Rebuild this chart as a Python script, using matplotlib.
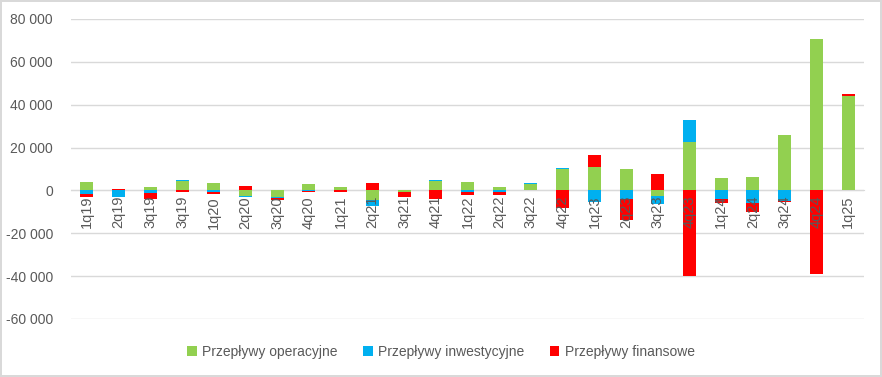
import numpy as np
import matplotlib
matplotlib.use("Agg")
import matplotlib.pyplot as plt
from matplotlib.ticker import FuncFormatter, MultipleLocator
from matplotlib.patches import Patch

labels = ['1q19', '2q19', '3q19', '3q19', '1q20', '2q20', '3q20', '4q20', '1q21',
          '2q21', '3q21', '4q21', '1q22', '2q22', '3q22', '4q22', '1q23', '2q23',
          '3q23', '4q23', '1q24', '2q24', '3q24', '4q24', '1q25']

operacyjne = [3900, 0, 1600, 4300, 3400, -2500, -3100, 2900, 1600,
              -4500, -800, 4300, 3900, 1600, 3100, 9900, 10900, 9900,
              -2600, 22500, 5700, 6200, 25700, 70800, 44300]
inwestycyjne = [-1600, -3200, -1200, 500, -600, -500, -400, -200, 0,
                -2800, 400, 500, -500, -500, 300, 500, -5300, -4000,
                -3700, 10200, -4000, -5900, -5000, 0, 0]
finansowe = [-1500, 900, -2800, -800, -1100, 2000, -1000, -600, -800,
             3400, -2200, -4000, -1700, -1700, 0, -8100, 5600, -9600,
             7600, -39800, -1900, -4000, -300, -38900, 500]

series = [("Przepływy operacyjne", operacyjne, "#92D050"),
          ("Przepływy inwestycyjne", inwestycyjne, "#00B0F0"),
          ("Przepływy finansowe", finansowe, "#FF0000")]

plt.rcParams['font.family'] = ['Liberation Sans', 'DejaVu Sans']
text_color = "#595959"
grid_color = "#D9D9D9"

fig = plt.figure(figsize=(8.82, 3.77), dpi=100)
fig.patch.set_edgecolor(grid_color)
fig.patch.set_linewidth(1.5)
ax = fig.add_axes([71 / 882, 58 / 377, 793 / 882, 300 / 377])

x = np.arange(len(labels))
pos_bottom = np.zeros(len(labels))
neg_bottom = np.zeros(len(labels))
handles = []
for name, vals, col in series:
    v = np.array(vals, dtype=float)
    bottom = np.where(v >= 0, pos_bottom, neg_bottom)
    ax.bar(x, v, width=0.41, bottom=bottom, color=col, zorder=2)
    pos_bottom = pos_bottom + np.where(v > 0, v, 0)
    neg_bottom = neg_bottom + np.where(v < 0, v, 0)
    handles.append(Patch(facecolor=col, label=name))

ax.set_xlim(-0.5, len(labels) - 0.5)
ax.set_ylim(-60000, 80000)
ax.yaxis.set_major_locator(MultipleLocator(20000))
ax.yaxis.set_major_formatter(FuncFormatter(lambda v, p: f"{int(v):,}".replace(",", " ")))
ax.grid(axis='y', color=grid_color, linewidth=1)
ax.set_axisbelow(True)
ax.xaxis.set_zorder(3)

for s in ['top', 'right', 'left']:
    ax.spines[s].set_visible(False)
ax.spines['bottom'].set_position(('data', 0))
ax.spines['bottom'].set_color(grid_color)
ax.spines['bottom'].set_zorder(1)

ax.set_xticks(x)
ax.set_xticklabels(labels, rotation=90, va='top', ha='center')
ax.tick_params(axis='x', length=0, pad=4, labelsize=10.5, labelcolor=text_color)
ax.tick_params(axis='y', length=0, pad=13, labelsize=10, labelcolor=text_color)

fig.legend(handles=handles, loc='center', bbox_to_anchor=(0.5, 0.066), ncol=3,
           frameon=False, fontsize=10, handlelength=0.7, handleheight=0.7,
           handletextpad=0.4, columnspacing=1.8, labelcolor=text_color)

fig.savefig("out.png", dpi=100)
